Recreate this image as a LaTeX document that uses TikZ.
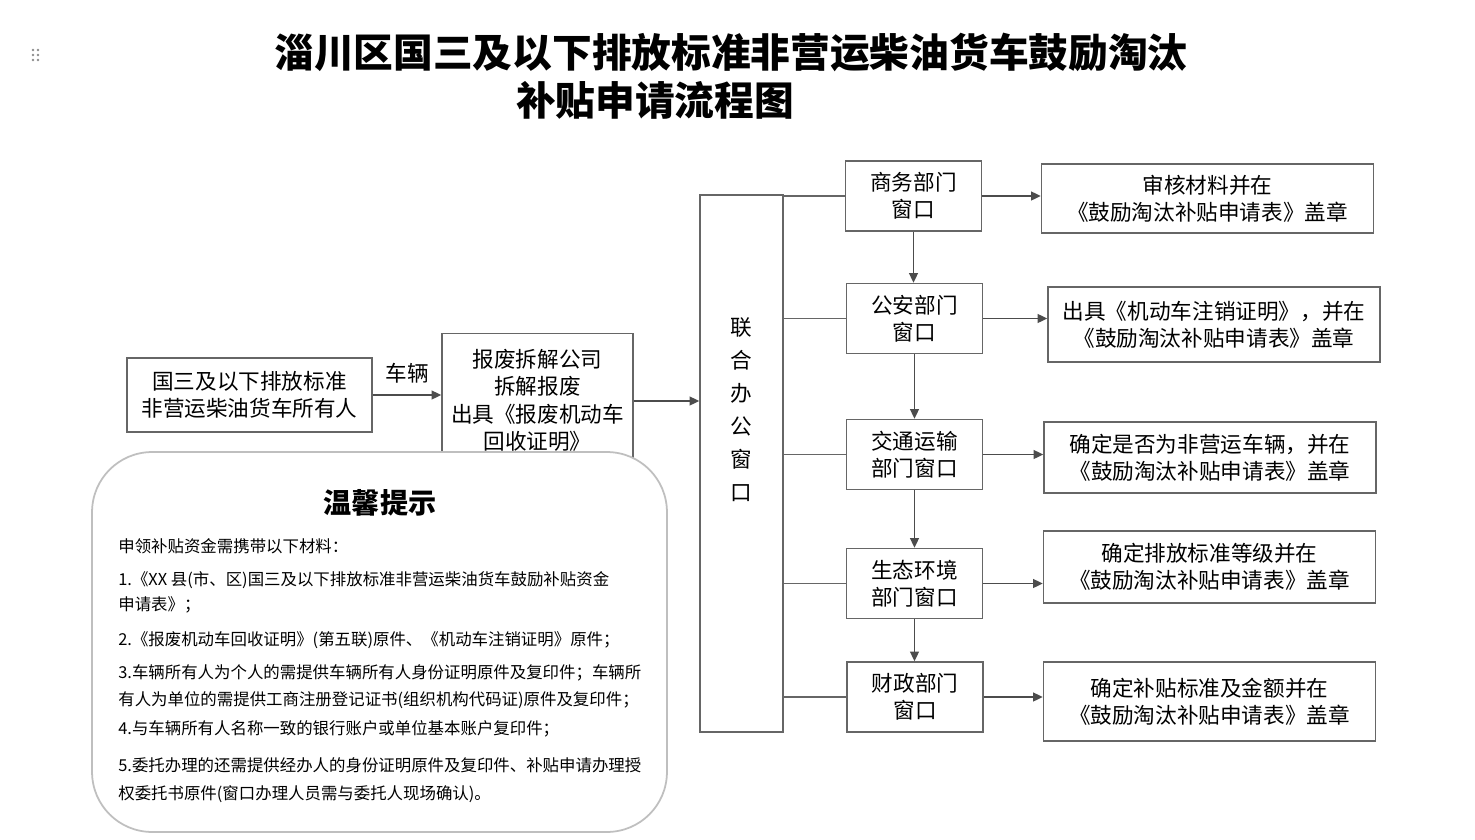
\documentclass[tikz,border=0pt]{standalone}
\usepackage{fontspec}
\setmainfont{Noto Sans CJK SC}
\usetikzlibrary{arrows.meta}

\begin{document}
\begin{tikzpicture}[x=0.02cm, y=0.02cm,
		box/.style={draw=black!60, line width=0.8pt, align=center, fill=white, font=\fontsize{12.3}{15.5}\selectfont},
		dept/.style={box, minimum width=2.72cm, minimum height=1.4cm},
		res/.style={box, minimum width=6.64cm},
		arr/.style={draw=black!70, line width=0.9pt, -{Triangle[length=5.5pt,width=5pt]}},
		link/.style={draw=black!60, line width=0.8pt},
		tipline/.style={anchor=west, inner sep=0pt, font=\fontsize{9.35}{11}\selectfont}]
		\tikzstyle{every node}+=[inner sep=2pt]
		\useasboundingbox (0,0) rectangle (1475,-839);
		\fill [black!45] (33,-50) circle (1.3) (38,-50) circle (1.3) (33,-55) circle (1.3) (38,-55) circle (1.3) (33,-60) circle (1.3) (38,-60) circle (1.3);
		\node (title1) at (731,-52) {\fontsize{22.6}{26}\selectfont\bfseries 淄川区国三及以下排放标准非营运柴油货车鼓励淘汰};
		\node (title2) at (655,-100) {\fontsize{22.6}{26}\selectfont\bfseries 补贴申请流程图};
		\node [box, minimum width=4.9cm, minimum height=1.48cm] (owner) at (249.5,-395) {国三及以下排放标准\\非营运柴油货车所有人};
		\node [box, minimum width=3.82cm, minimum height=2.7cm] (scrap) at (537.5,-401) {\\[-6pt]报废拆解公司\\拆解报废\\出具《报废机动车\\回收证明》};
		\node [box, minimum width=1.66cm, minimum height=10.74cm] (joint) at (741.5,-463.5) {};
		\node [align=center, font=\fontsize{12.3}{18.8}\selectfont] (jointtxt) at (741.5,-410) {联\\合\\办\\公\\窗\\口};
		\node [dept] (shangwu) at (913.5,-196) {商务部门\\窗口};
		\node [dept] (gongan) at (914.5,-318.5) {公安部门\\窗口};
		\node [dept] (jiaotong) at (914.5,-454.5) {交通运输\\部门窗口};
		\node [dept] (shengtai) at (914.5,-583.5) {生态环境\\部门窗口};
		\node [dept] (caizheng) at (915,-697) {财政部门\\窗口};
		\node [res, minimum height=1.38cm] (rshangwu) at (1207.5,-198.5) {审核材料并在\\《鼓励淘汰补贴申请表》盖章};
		\node [res, minimum height=1.5cm] (rgongan) at (1214,-324.5) {出具《机动车注销证明》，并在\\《鼓励淘汰补贴申请表》盖章};
		\node [res, minimum height=1.42cm] (rjiaotong) at (1210,-457.5) {确定是否为非营运车辆，并在\\《鼓励淘汰补贴申请表》盖章};
		\node [res, minimum height=1.44cm] (rshengtai) at (1209.5,-567) {确定排放标准等级并在\\《鼓励淘汰补贴申请表》盖章};
		\node [res, minimum height=1.58cm] (rcaizheng) at (1209.5,-701.5) {确定补贴标准及金额并在\\《鼓励淘汰补贴申请表》盖章};
		\draw [arr] (owner.east) -- (owner.east -| scrap.west) node [midway, above=4pt] (car) {\fontsize{12.3}{15}\selectfont 车辆};
		\draw [arr] (scrap.east) -- (scrap.east -| joint.west);
		\draw [link] (joint.east |- shangwu.west) -- (shangwu.west);
		\draw [link] (joint.east |- gongan.west) -- (gongan.west);
		\draw [link] (joint.east |- jiaotong.west) -- (jiaotong.west);
		\draw [link] (joint.east |- shengtai.west) -- (shengtai.west);
		\draw [link] (joint.east |- caizheng.west) -- (caizheng.west);
		\draw [arr] (shangwu.south) -- (shangwu.south |- gongan.north);
		\draw [arr] (gongan.south) -- (gongan.south |- jiaotong.north);
		\draw [arr] (jiaotong.south) -- (jiaotong.south |- shengtai.north);
		\draw [arr] (shengtai.south) -- (shengtai.south |- caizheng.north);
		\draw [arr] (shangwu.east) -- (shangwu.east -| rshangwu.west);
		\draw [arr] (gongan.east) -- (gongan.east -| rgongan.west);
		\draw [arr] (jiaotong.east) -- (jiaotong.east -| rjiaotong.west);
		\draw [arr] (shengtai.east) -- (shengtai.east -| rshengtai.west);
		\draw [arr] (caizheng.east) -- (caizheng.east -| rcaizheng.west);
		\node [draw=black!25, line width=1pt, fill=white, rounded corners=1.2cm, minimum width=11.5cm, minimum height=7.6cm] (tips) at (379.5,-642) {};
		\node [font=\fontsize{16}{18}\selectfont\bfseries] (tiptitle) at (380,-503) {温馨提示};
		\node [tipline] (tip0) at (118,-546) {申领补贴资金需携带以下材料：};
		\node [tipline] (tip1) at (118,-580) {1.《XX 县(市、区)国三及以下排放标准非营运柴油货车鼓励补贴资金};
		\node [tipline] (tip2) at (118,-605) {申请表》；};
		\node [tipline] (tip3) at (118,-640) {2.《报废机动车回收证明》(第五联)原件、《机动车注销证明》原件；};
		\node [tipline] (tip4) at (118,-673) {3.车辆所有人为个人的需提供车辆所有人身份证明原件及复印件；车辆所};
		\node [tipline] (tip5) at (118,-700) {有人为单位的需提供工商注册登记证书(组织机构代码证)原件及复印件；};
		\node [tipline] (tip6) at (118,-729) {4.与车辆所有人名称一致的银行账户或单位基本账户复印件；};
		\node [tipline] (tip7) at (118,-765) {5.委托办理的还需提供经办人的身份证明原件及复印件、补贴申请办理授};
		\node [tipline] (tip8) at (118,-794) {权委托书原件(窗口办理人员需与委托人现场确认)。};
	\end{tikzpicture}
\end{document}
